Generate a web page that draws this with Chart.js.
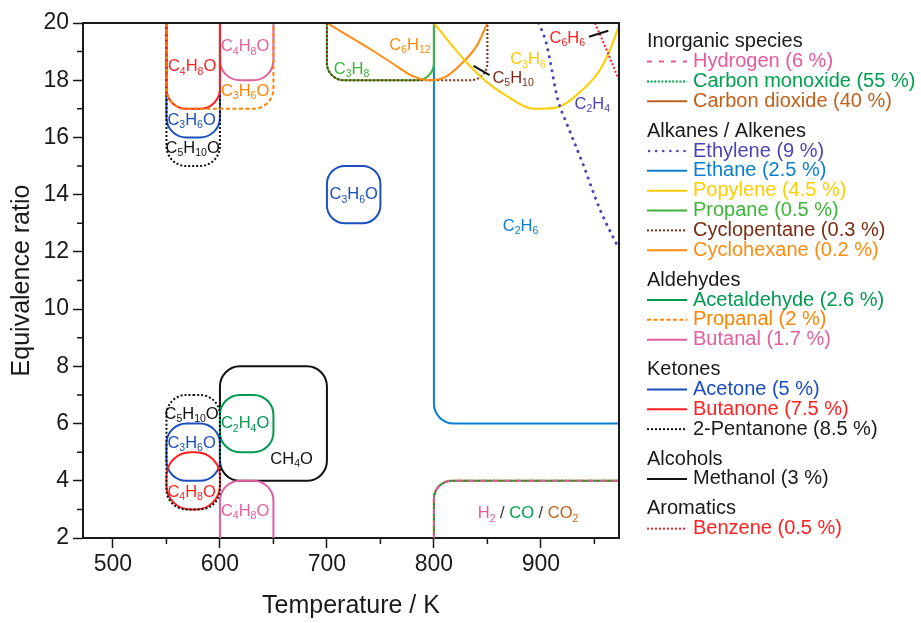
<!DOCTYPE html>
<html>
<head>
<meta charset="utf-8">
<script src="https://cdn.jsdelivr.net/npm/chart.js@4.4.1/dist/chart.umd.min.js"></script>
<style>
  html, body { margin: 0; padding: 0; background: #fff; }
  #wrap { position: relative; width: 921px; height: 623px; }
</style>
</head>
<body>
<div id="wrap"><canvas id="c" width="921" height="623"></canvas></div>
<script>
// ---- axes ----
const xRange = [472, 973];
const yRange = [2, 20];
const xTicks = [500, 600, 700, 800, 900];
const xMinorTicks = [550, 650, 750, 850, 950];
const yTicks = [2, 4, 6, 8, 10, 12, 14, 16, 18, 20];
const yMinorTicks = [3, 5, 7, 9, 11, 13, 15, 17, 19];

// ---- species and their shares (%) ----
const speciesNames = ['Hydrogen', 'Carbon monoxide', 'Carbon dioxide',
  'Ethylene', 'Ethane', 'Popylene', 'Propane', 'Cyclopentane', 'Cyclohexane',
  'Acetaldehyde', 'Propanal', 'Butanal',
  'Acetone', 'Butanone', '2-Pentanone',
  'Methanol',
  'Benzene'];
const speciesShares = [6, 55, 40, 9, 2.5, 4.5, 0.5, 0.3, 0.2, 2.6, 2, 1.7, 5, 7.5, 8.5, 3, 0.5];
const groupTitles = ['Inorganic species', 'Alkanes / Alkenes', 'Aldehydes', 'Ketones', 'Alcohols', 'Aromatics'];
const groupSizes = [3, 6, 3, 3, 1, 1];

// ---- outlines of the formation zones: [temperature K, equivalence ratio] ----
const syngasZone        = [[800, 2], [800, 4], [973, 4]];
const ethaneZone        = [[800, 20], [800, 6], [973, 6]];
const propaneZone       = [[700, 20], [700, 18], [800, 18], [800, 20]];
const cyclopentaneZone  = [[700, 20], [700, 18], [850, 18], [850, 20]];
const propanalZone      = [[550, 20], [550, 17], [650, 17], [650, 20]];
const butanalHighZone   = [[600, 20], [600, 18], [650, 18], [650, 20]];
const butanalLowZone    = [[600, 2], [600, 4], [650, 4], [650, 2]];
const acetaldehydeZone  = [[600, 7], [650, 7], [650, 5], [600, 5], [600, 7]];
const acetoneHighZone   = [[550, 20], [550, 16], [600, 16], [600, 20]];
const acetoneMidZone    = [[700, 15], [750, 15], [750, 13], [700, 13], [700, 15]];
const acetoneLowZone    = [[550, 6], [600, 6], [600, 4], [550, 4], [550, 6]];
const butanoneHighZone  = [[550, 20], [550, 17], [600, 17], [600, 20]];
const butanoneLowZone   = [[550, 5], [600, 5], [600, 3], [550, 3], [550, 5]];
const pentanoneHighZone = [[550, 20], [550, 15], [600, 15], [600, 20]];
const pentanoneLowZone  = [[550, 7], [600, 7], [600, 3], [550, 3], [550, 7]];
const methanolZone      = [[600, 8], [700, 8], [700, 4], [600, 4], [600, 8]];

// ---- boundary curves ----
const cyclohexaneCurve = [[700, 20], [720, 19.55], [740, 19.1], [760, 18.62], [780, 18.15], [795, 18.0], [810, 18.1], [825, 18.55], [840, 19.2], [850, 20]];
const propyleneCurve   = [[800, 20], [815, 19.3], [831, 18.6], [849, 17.95], [868, 17.45], [893, 17.0], [915, 17.05], [937, 17.6], [955, 18.35], [965, 19.1], [973, 19.9]];
const ethyleneCurve    = [[898, 20], [905, 19.3], [916, 17.3], [924, 16.5], [939, 15.1], [955, 13.5], [973, 12.1]];
const benzeneCurve     = [[950.5, 20], [961.5, 19.05], [973, 18.0]];

// ---- short leader marks beside two labels ----
const leaderC5H10 = [[837, 18.5], [852, 18.18]];
const leaderC6H6  = [[945, 19.52], [963, 19.73]];

// ---- line styles per species ----
const styles = [
  { color: '#e6599d', dash: [5, 7] },                       // hydrogen
  { color: '#00a04f', dash: [2, 1.6] },                     // carbon monoxide
  { color: '#c0601c', dash: [] },                           // carbon dioxide
  { color: '#4b44b4', dash: [0.1, 7], width: 3, cap: 'round' }, // ethylene
  { color: '#0a7fd0', dash: [] },                           // ethane
  { color: '#ffcc00', dash: [] },                           // propylene
  { color: '#3db53a', dash: [] },                           // propane
  { color: '#7a2c14', dash: [2, 2] },                       // cyclopentane
  { color: '#ff8c10', dash: [] },                           // cyclohexane
  { color: '#009a50', dash: [] },                           // acetaldehyde
  { color: '#ff8400', dash: [4, 2.5] },                     // propanal
  { color: '#e0609e', dash: [] },                           // butanal
  { color: '#1b4fbf', dash: [] },                           // acetone
  { color: '#ff1f1f', dash: [] },                           // butanone
  { color: '#111111', dash: [2, 2] },                       // 2-pentanone
  { color: '#111111', dash: [] },                           // methanol
  { color: '#ff2020', dash: [2, 2] }                        // benzene
];

// zones in drawing order (later ones on top)
const zones = [
  { sp: 4, pts: ethaneZone },
  { sp: 2, pts: syngasZone, r: 18 },
  { sp: 1, pts: syngasZone, r: 18 },
  { sp: 0, pts: syngasZone, r: 18 },
  { sp: 15, pts: methanolZone },
  { sp: 9, pts: acetaldehydeZone },
  { sp: 11, pts: butanalLowZone },
  { sp: 11, pts: butanalHighZone },
  { sp: 12, pts: acetoneLowZone },
  { sp: 13, pts: butanoneLowZone, r: 24 },
  { sp: 14, pts: pentanoneLowZone },
  { sp: 12, pts: acetoneHighZone },
  { sp: 14, pts: pentanoneHighZone },
  { sp: 13, pts: butanoneHighZone },
  { sp: 10, pts: propanalZone },
  { sp: 12, pts: acetoneMidZone, r: 18 },
  { sp: 6, pts: propaneZone, r: 17 },
  { sp: 7, pts: cyclopentaneZone, r: 17 }
];
const curves = [
  { sp: 8, pts: cyclohexaneCurve },
  { sp: 5, pts: propyleneCurve },
  { sp: 3, pts: ethyleneCurve },
  { sp: 16, pts: benzeneCurve }
];
const leaders = [leaderC5H10, leaderC6H6];

// formula labels: digits are set as subscripts; -1 = neutral separator colour
const formulaLabels = [
  { parts: [['C4H8O', 13]], x: 574, y: 18.47 },
  { parts: [['C4H8O', 11]], x: 623.5, y: 19.17 },
  { parts: [['C3H6O', 10]], x: 623.5, y: 17.62 },
  { parts: [['C3H6O', 12]], x: 573.5, y: 16.61 },
  { parts: [['C5H10O', 14]], x: 574.5, y: 15.62 },
  { parts: [['C3H8', 6]], x: 723, y: 18.38 },
  { parts: [['C6H12', 8]], x: 777.6, y: 19.23 },
  { parts: [['C5H10', 7]], x: 874, y: 18.07 },
  { parts: [['C3H6', 5]], x: 888, y: 18.71 },
  { parts: [['C2H4', 3]], x: 948, y: 17.16 },
  { parts: [['C6H6', 16]], x: 924.6, y: 19.47 },
  { parts: [['C3H6O', 12]], x: 725, y: 14.0 },
  { parts: [['C2H6', 4]], x: 881, y: 12.9 },
  { parts: [['C5H10O', 14]], x: 573.5, y: 6.33 },
  { parts: [['C3H6O', 12]], x: 573.5, y: 5.3 },
  { parts: [['C4H8O', 13]], x: 573.5, y: 3.59 },
  { parts: [['C2H4O', 9]], x: 623.5, y: 5.99 },
  { parts: [['CH4O', 15]], x: 667, y: 4.74 },
  { parts: [['C4H8O', 11]], x: 623.5, y: 2.93 },
  { parts: [['H2', 0], [' / ', -1], ['CO', 1], [' / ', -1], ['CO2', 2]], x: 888, y: 2.85 }
];

const FONT = '"Liberation Sans", Arial, Helvetica, sans-serif';
const INK = '#1a1a1a';

const toXY = pts => pts.map(([x, y]) => ({ x, y }));

// ---- datasets ----
const datasets = [];
zones.forEach(z => {
  const st = styles[z.sp];
  const first = z.pts[0], last = z.pts[z.pts.length - 1];
  datasets.push({
    label: speciesNames[z.sp],
    data: toXY(z.pts),
    borderColor: st.color,
    borderWidth: st.width || 2,
    borderDash: st.dash,
    borderCapStyle: st.cap || 'butt',
    pointRadius: 0,
    rounded: true,
    cornerRadius: z.r || 20,
    closed: first[0] === last[0] && first[1] === last[1]
  });
});
curves.forEach(c => {
  const st = styles[c.sp];
  datasets.push({
    label: speciesNames[c.sp],
    data: toXY(c.pts),
    borderColor: st.color,
    borderWidth: st.width || 2,
    borderDash: st.dash,
    borderCapStyle: st.cap || 'butt',
    cubicInterpolationMode: 'monotone',
    pointRadius: 0
  });
});
leaders.forEach(l => {
  datasets.push({
    label: 'leader',
    data: toXY(l),
    borderColor: '#111',
    borderWidth: 2,
    pointRadius: 0
  });
});
// later datasets are drawn above earlier ones
datasets.forEach((d, i) => { d.order = datasets.length - i; });

// ---- rounded outlines through the chart's own point positions ----
function traceRounded(ctx, pts, r, closed) {
  const dist = (a, b) => Math.hypot(a.x - b.x, a.y - b.y);
  ctx.beginPath();
  if (closed) {
    const p = pts.slice(0, -1), m = p.length;
    ctx.moveTo((p[0].x + p[1].x) / 2, (p[0].y + p[1].y) / 2);
    for (let i = 1; i <= m; i++) {
      const c = p[i % m], prev = p[i - 1], next = p[(i + 1) % m];
      const rr = Math.min(r, dist(prev, c) / 2, dist(c, next) / 2);
      ctx.arcTo(c.x, c.y, next.x, next.y, rr);
    }
    ctx.closePath();
  } else {
    const n = pts.length;
    ctx.moveTo(pts[0].x, pts[0].y);
    for (let i = 1; i < n - 1; i++) {
      const c = pts[i], prev = pts[i - 1], next = pts[i + 1];
      const lp = i - 1 === 0 ? dist(prev, c) : dist(prev, c) / 2;
      const ln = i + 1 === n - 1 ? dist(c, next) : dist(c, next) / 2;
      ctx.arcTo(c.x, c.y, next.x, next.y, Math.min(r, lp, ln));
    }
    ctx.lineTo(pts[n - 1].x, pts[n - 1].y);
  }
}

const zonePlugin = {
  id: 'zones',
  beforeDatasetDraw(chart, args) {
    const ds = chart.data.datasets[args.index];
    if (!ds.rounded) return;
    const ctx = chart.ctx, a = chart.chartArea;
    const pts = args.meta.data.map(p => ({ x: p.x, y: p.y }));
    ctx.save();
    ctx.beginPath();
    ctx.rect(a.left - 2, a.top - 2, a.right - a.left + 4, a.bottom - a.top + 4);
    ctx.clip();
    ctx.strokeStyle = ds.borderColor;
    ctx.lineWidth = ds.borderWidth;
    ctx.setLineDash(ds.borderDash || []);
    ctx.lineCap = ds.borderCapStyle;
    ctx.lineJoin = 'round';
    traceRounded(ctx, pts, ds.cornerRadius, ds.closed);
    ctx.stroke();
    ctx.restore();
    return false;
  }
};

// ---- formula text with subscripts ----
function formulaRuns(text) {
  const runs = [];
  for (let i = 0; i < text.length; i++) {
    const ch = text[i];
    const sub = /[0-9]/.test(ch) && i > 0 && /[A-Za-z0-9]/.test(text[i - 1]);
    runs.push({ ch, sub });
  }
  return runs;
}
const MAIN_FONT = '16.5px ' + FONT;
const SUB_FONT = '10.5px ' + FONT;

const labelPlugin = {
  id: 'formulaLabels',
  afterDatasetsDraw(chart) {
    const ctx = chart.ctx, sx = chart.scales.x, sy = chart.scales.y;
    ctx.save();
    ctx.textBaseline = 'middle';
    ctx.textAlign = 'left';
    formulaLabels.forEach(lab => {
      const items = [];
      lab.parts.forEach(([txt, sp]) => {
        const color = sp < 0 ? '#333' : styles[sp].color;
        formulaRuns(txt).forEach(r => {
          ctx.font = r.sub ? SUB_FONT : MAIN_FONT;
          items.push({ ...r, color, w: ctx.measureText(r.ch).width });
        });
      });
      const total = items.reduce((s, it) => s + it.w, 0);
      let x = sx.getPixelForValue(lab.x) - total / 2;
      const y = sy.getPixelForValue(lab.y);
      items.forEach(it => {
        ctx.font = it.sub ? SUB_FONT : MAIN_FONT;
        ctx.fillStyle = it.color;
        ctx.fillText(it.ch, x, it.sub ? y + 5 : y);
        x += it.w;
      });
    });
    ctx.restore();
  }
};

// ---- frame, minor ticks and grouped legend ----
const framePlugin = {
  id: 'frame',
  afterDraw(chart) {
    const ctx = chart.ctx, a = chart.chartArea, sx = chart.scales.x, sy = chart.scales.y;
    ctx.save();
    ctx.strokeStyle = INK;
    ctx.lineWidth = 2;
    ctx.beginPath();
    ctx.moveTo(a.left, a.top); ctx.lineTo(a.right, a.top); ctx.lineTo(a.right, a.bottom);
    ctx.stroke();
    ctx.lineWidth = 1.5;
    ctx.beginPath();
    xMinorTicks.forEach(v => {
      const px = sx.getPixelForValue(v);
      ctx.moveTo(px, a.bottom); ctx.lineTo(px, a.bottom + 6);
    });
    yMinorTicks.forEach(v => {
      const py = sy.getPixelForValue(v);
      ctx.moveTo(a.left, py); ctx.lineTo(a.left - 6, py);
    });
    ctx.stroke();

    // legend
    ctx.font = '20px ' + FONT;
    ctx.textBaseline = 'middle';
    ctx.textAlign = 'left';
    let y = 41.7, k = 0;
    groupTitles.forEach((g, gi) => {
      ctx.fillStyle = INK;
      ctx.fillText(g, 647, y);
      for (let j = 0; j < groupSizes[gi]; j++, k++) {
        y += 19.85;
        const st = styles[k];
        ctx.strokeStyle = st.color;
        ctx.lineWidth = st.width ? 2.5 : 2;
        ctx.lineCap = st.cap || 'butt';
        ctx.setLineDash(st.dash);
        ctx.beginPath();
        ctx.moveTo(st.cap ? 649 : 647, y);
        ctx.lineTo(687, y);
        ctx.stroke();
        ctx.setLineDash([]);
        ctx.lineCap = 'butt';
        ctx.fillStyle = st.color === '#111111' ? INK : st.color;
        ctx.fillText(speciesNames[k] + ' (' + speciesShares[k] + ' %)', 693, y);
      }
      y += 29.9;
    });
    ctx.restore();
  }
};

new Chart(document.getElementById('c'), {
  type: 'line',
  data: { datasets },
  options: {
    responsive: false,
    animation: false,
    events: [],
    layout: { padding: { top: 23, right: 302, left: 0, bottom: 0 } },
    plugins: { legend: { display: false }, tooltip: { enabled: false } },
    scales: {
      x: {
        type: 'linear',
        min: xRange[0], max: xRange[1],
        afterBuildTicks: s => { s.ticks = xTicks.map(v => ({ value: v })); },
        afterFit: s => { s.height = 85; },
        grid: { drawOnChartArea: false, drawTicks: true, tickLength: 10, tickColor: INK, tickWidth: 1.5 },
        border: { display: true, color: INK, width: 2 },
        ticks: { color: INK, font: { family: FONT, size: 23 }, padding: 3, maxRotation: 0 },
        title: { display: true, text: 'Temperature / K', color: INK, font: { family: FONT, size: 25 }, padding: { top: 0, bottom: 2 } }
      },
      y: {
        type: 'linear',
        min: yRange[0], max: yRange[1],
        afterBuildTicks: s => { s.ticks = yTicks.map(v => ({ value: v })); },
        afterFit: s => { s.width = 83; },
        grid: { drawOnChartArea: false, drawTicks: true, tickLength: 10, tickColor: INK, tickWidth: 1.5 },
        border: { display: true, color: INK, width: 2 },
        ticks: { color: INK, font: { family: FONT, size: 23 }, padding: 4 },
        title: { display: true, text: 'Equivalence ratio', color: INK, font: { family: FONT, size: 25 }, padding: { top: 7, bottom: 0 } }
      }
    }
  },
  plugins: [zonePlugin, labelPlugin, framePlugin]
});
</script>
</body>
</html>
